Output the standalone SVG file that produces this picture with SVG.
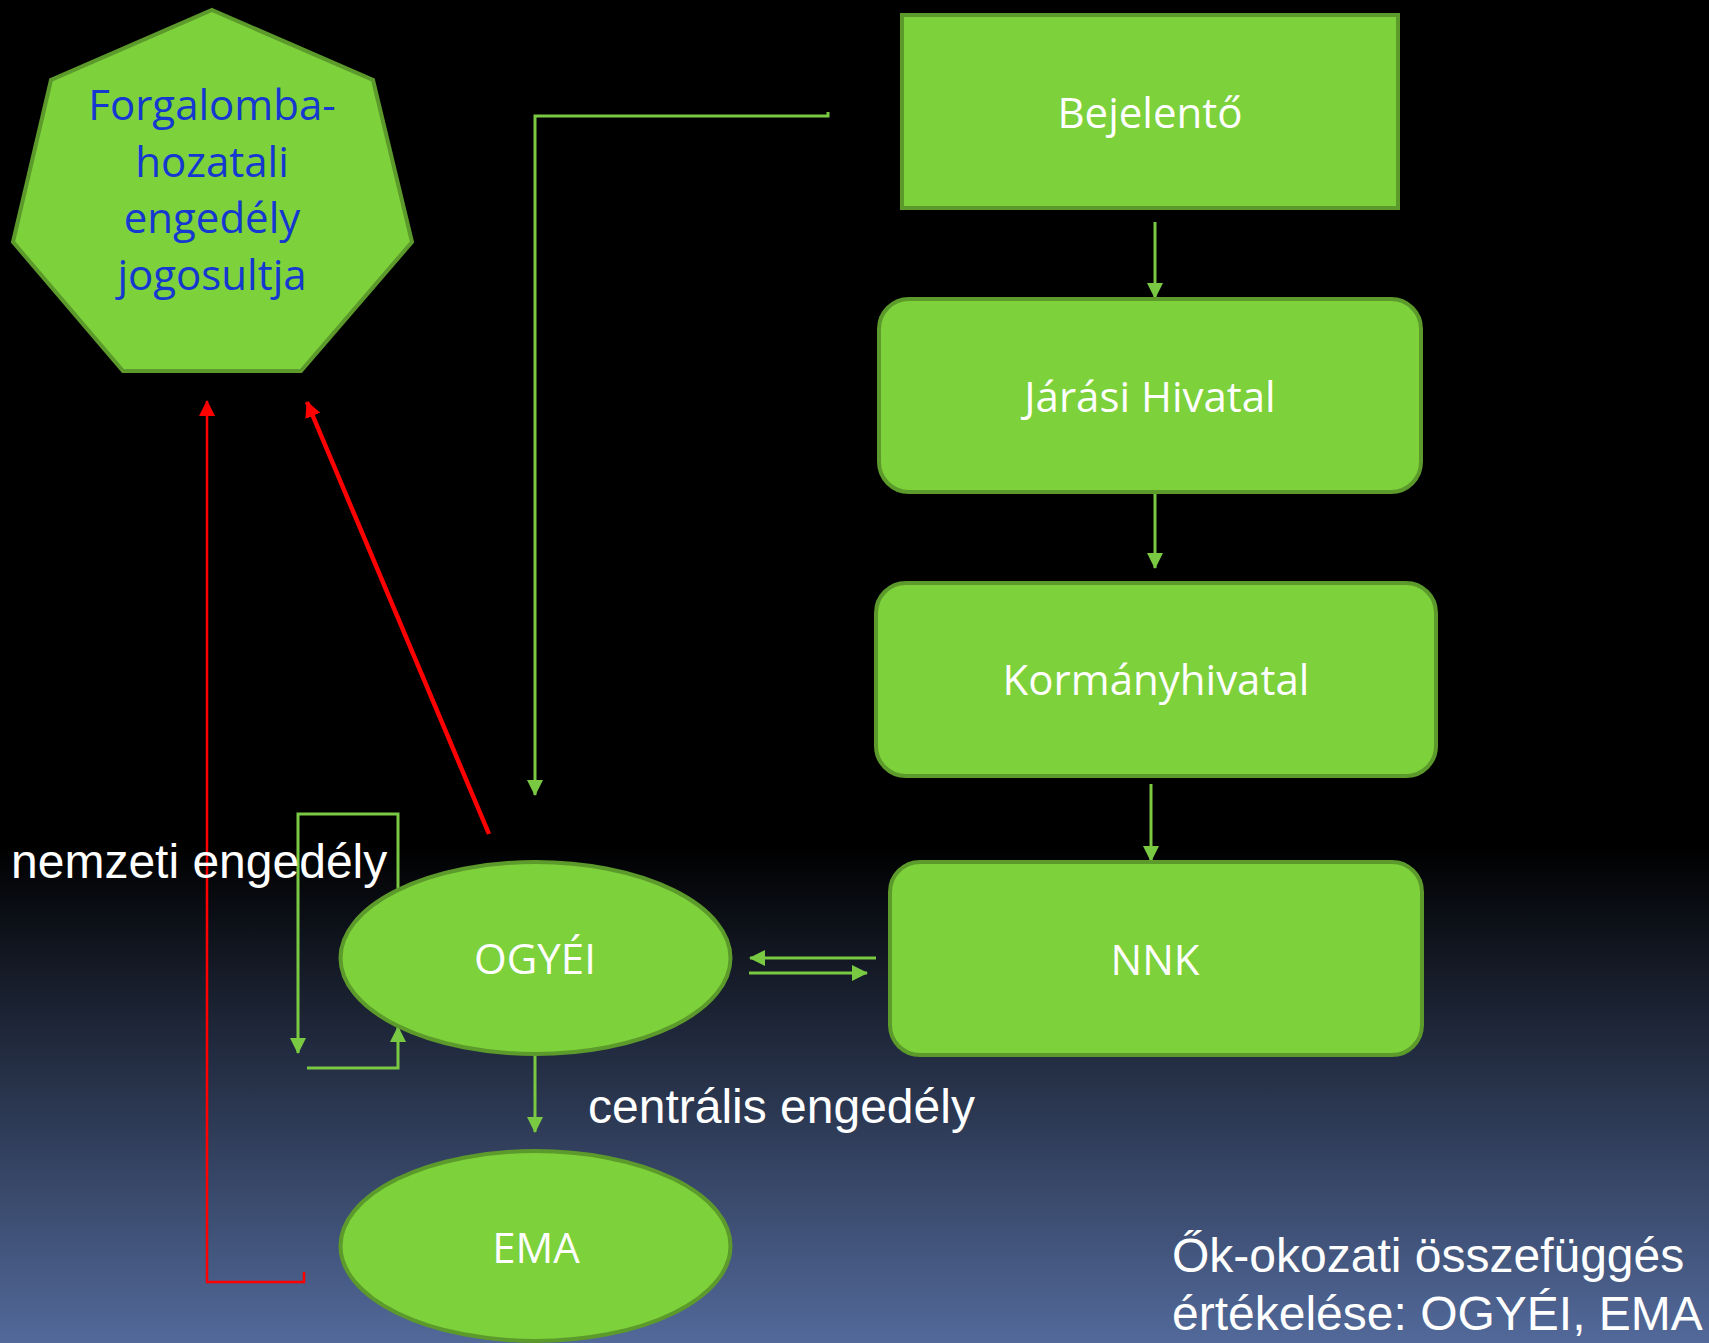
<svg xmlns="http://www.w3.org/2000/svg" width="1709" height="1343" viewBox="0 0 1709 1343">
<defs>
<linearGradient id="bg" x1="0" y1="0" x2="0" y2="1">
<stop offset="0" stop-color="#000000"/>
<stop offset="0.63" stop-color="#000000"/>
<stop offset="1" stop-color="#52699a"/>
</linearGradient>
<marker id="ag" markerUnits="userSpaceOnUse" markerWidth="16" markerHeight="16" refX="15" refY="8" orient="auto">
<path d="M0,0 L16,8 L0,16 z" fill="#7ac943"/>
</marker>
<marker id="ar" markerUnits="userSpaceOnUse" markerWidth="16" markerHeight="16" refX="15" refY="8" orient="auto">
<path d="M0,0 L16,8 L0,16 z" fill="#ff0000"/>
</marker>
</defs>
<style>
.node{fill:#7dd13b;stroke:#5c9a2b;stroke-width:4}
.nt{font-family:"Open Sans","Noto Sans",sans-serif;font-size:42px;fill:#ffffff;text-anchor:middle}
.bt{font-family:"Open Sans","Noto Sans",sans-serif;font-size:42px;fill:#1438d0;text-anchor:middle}
.lbl{font-family:"Liberation Sans",Arial,sans-serif;font-size:48px;fill:#ffffff}
.g{fill:none;stroke:#7ac943;stroke-width:3;marker-end:url(#ag)}
.r{fill:none;stroke:#ff0000;stroke-width:2.5;marker-end:url(#ar)}
.rt{fill:none;stroke:#ff0000;stroke-width:4.5;marker-end:url(#ar)}
</style>
<rect x="0" y="0" width="1709" height="1343" fill="url(#bg)"/>

<g id="connectors">
<path class="g" d="M828,112 L828,116 L535,116 L535,795"/>
<path class="g" d="M1155,222 L1155,298"/>
<path class="g" d="M1155,493 L1155,568"/>
<path class="g" d="M1151,784 L1151,861"/>
<path class="g" d="M876,958 L750,958"/>
<path class="g" d="M749,973 L867,973"/>
<path class="g" d="M398,889 L398,814 L298,814 L298,1053"/>
<path class="g" d="M307,1068 L398,1068 L398,1027"/>
<path class="g" d="M535,1055 L535,1132"/>
<path class="rt" d="M489,834 L307,402"/>
<path class="r" d="M304,1272 L304,1282 L207,1282 L207,401"/>
</g>

<g id="node-jogosult">
<polygon class="node" stroke-width="3" points="212,10 373,80 412,242 301,371 123,371 13,242 51,80"/>
<text class="bt" x="212" y="120">Forgalomba-</text>
<text class="bt" x="212" y="177">hozatali</text>
<text class="bt" x="212" y="233">engedély</text>
<text class="bt" x="212" y="290">jogosultja</text>
</g>

<g id="node-bejelento">
<rect class="node" x="902" y="15" width="496" height="193"/>
<text class="nt" x="1150" y="128">Bejelentő</text>
</g>

<g id="node-jarasi">
<rect class="node" x="879" y="299" width="542" height="193" rx="30" ry="30"/>
<text class="nt" x="1150" y="412">Járási Hivatal</text>
</g>

<g id="node-kormany">
<rect class="node" x="876" y="583" width="560" height="193" rx="30" ry="30"/>
<text class="nt" x="1156" y="695">Kormányhivatal</text>
</g>

<g id="node-nnk">
<rect class="node" x="890" y="862" width="532" height="193" rx="30" ry="30"/>
<text class="nt" x="1155" y="975">NNK</text>
</g>

<g id="node-ogyei">
<ellipse class="node" cx="535.5" cy="958" rx="195" ry="96"/>
<text class="nt" x="535" y="974">OGYÉI</text>
</g>

<g id="node-ema">
<ellipse class="node" cx="535.5" cy="1246" rx="195" ry="95"/>
<text class="nt" x="536" y="1263">EMA</text>
</g>

<g id="labels">
<text class="lbl" x="11" y="878">nemzeti engedély</text>
<text class="lbl" x="588" y="1123">centrális engedély</text>
<text class="lbl" x="1172" y="1272">Ők-okozati összefüggés</text>
<text class="lbl" x="1172" y="1330">értékelése: OGYÉI, EMA</text>
</g>
</svg>
